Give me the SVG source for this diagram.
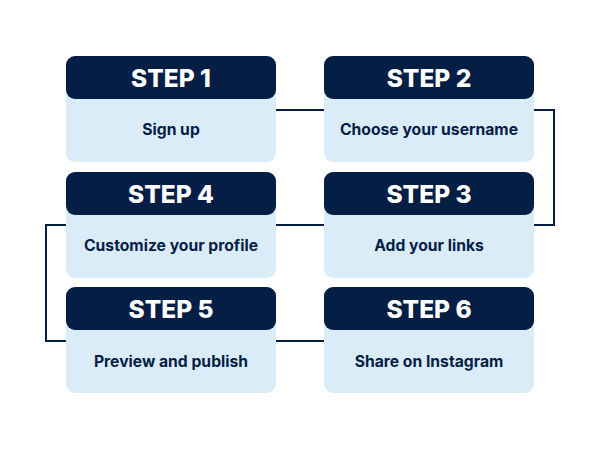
<svg xmlns="http://www.w3.org/2000/svg" width="600" height="450" viewBox="0 0 600 450">
<style>
.body{fill:#daecf7}
.head{fill:#041e45}
.conn{fill:none;stroke:#041e45;stroke-width:2}
.t1{font-family:Inter,"Liberation Sans",sans-serif;font-weight:800;font-size:24.5px;fill:#ffffff;text-anchor:middle}
.t2{font-family:Inter,"Liberation Sans",sans-serif;font-weight:700;font-size:15.7px;fill:#041e45;text-anchor:middle}
</style>
<rect width="600" height="450" fill="#ffffff"/>
<g id="connectors">
<path class="conn" d="M276 110 H325"/>
<path class="conn" d="M534 110 H554 V225 H534"/>
<path class="conn" d="M325 225 H276"/>
<path class="conn" d="M66 225 H46 V341 H66"/>
<path class="conn" d="M276 341 H325"/>
</g>
<g id="step1">
<rect class="body" x="66" y="56" width="210" height="106" rx="9"/>
<rect class="head" x="66" y="56" width="210" height="43" rx="9"/>
<text class="t1" x="171" y="86.5">STEP 1</text>
<text class="t2" x="171" y="134.5">Sign up</text>
</g>
<g id="step2">
<rect class="body" x="324" y="56" width="210" height="106" rx="9"/>
<rect class="head" x="324" y="56" width="210" height="43" rx="9"/>
<text class="t1" x="429" y="86.5">STEP 2</text>
<text class="t2" x="429" y="134.5">Choose your username</text>
</g>
<g id="step3">
<rect class="body" x="324" y="172" width="210" height="106" rx="9"/>
<rect class="head" x="324" y="172" width="210" height="43" rx="9"/>
<text class="t1" x="429" y="202.5">STEP 3</text>
<text class="t2" x="429" y="250.5">Add your links</text>
</g>
<g id="step4">
<rect class="body" x="66" y="172" width="210" height="106" rx="9"/>
<rect class="head" x="66" y="172" width="210" height="43" rx="9"/>
<text class="t1" x="171" y="202.5">STEP 4</text>
<text class="t2" x="171" y="250.5">Customize your profile</text>
</g>
<g id="step5">
<rect class="body" x="66" y="287" width="210" height="106" rx="9"/>
<rect class="head" x="66" y="287" width="210" height="43" rx="9"/>
<text class="t1" x="171" y="317.5">STEP 5</text>
<text class="t2" x="171" y="366.5">Preview and publish</text>
</g>
<g id="step6">
<rect class="body" x="324" y="287" width="210" height="106" rx="9"/>
<rect class="head" x="324" y="287" width="210" height="43" rx="9"/>
<text class="t1" x="429" y="317.5">STEP 6</text>
<text class="t2" x="429" y="366.5">Share on Instagram</text>
</g>
</svg>
